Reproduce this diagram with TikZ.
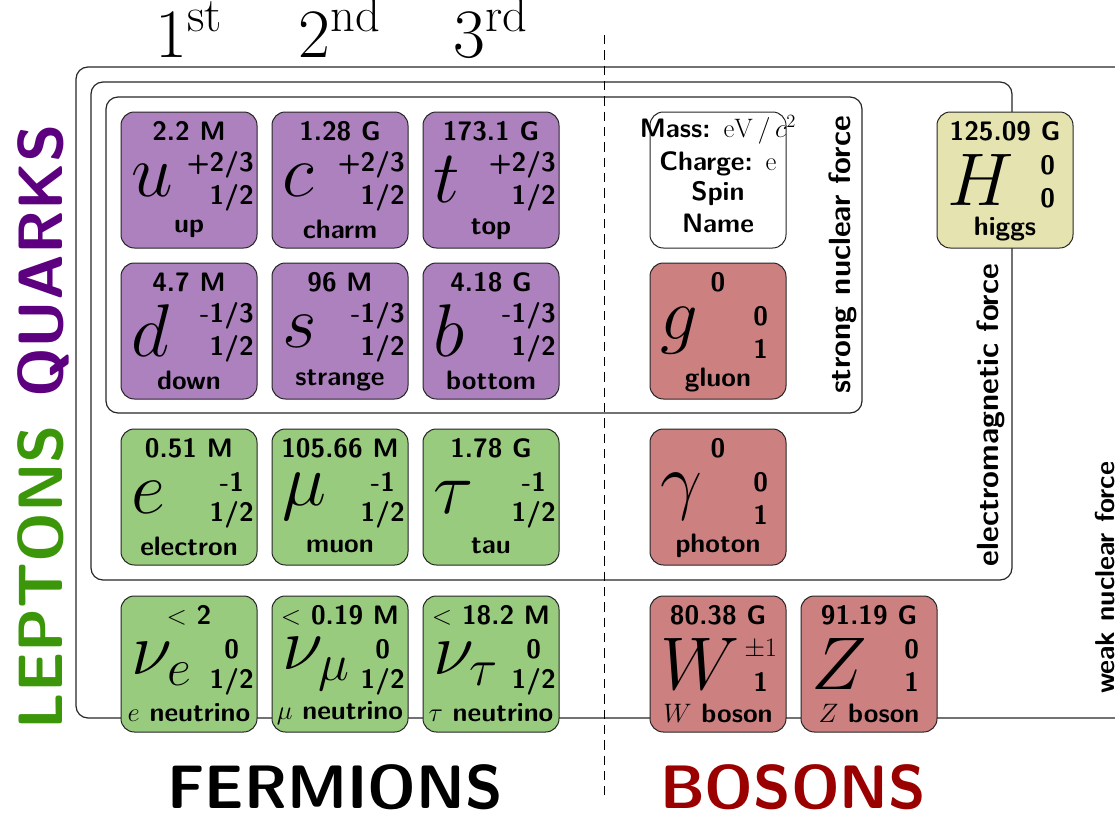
\RequirePackage{fix-cm}
\documentclass[tikz,border=0pt]{standalone}

\definecolor{quarkfill}{RGB}{173,128,190}
\definecolor{leptonfill}{RGB}{152,203,126}
\definecolor{bosonfill}{RGB}{204,128,128}
\definecolor{higgsfill}{RGB}{229,228,176}
\definecolor{quarktext}{RGB}{92,0,128}
\definecolor{leptontext}{RGB}{60,150,10}
\definecolor{bosontext}{RGB}{155,0,0}

\tikzset{
  pbox/.style={draw=black!85, line width=0.75pt, rounded corners=10pt,
    minimum width=102pt, minimum height=102pt, inner sep=0pt, outer sep=0pt},
  symb/.style={anchor=west, inner sep=0pt, font=\fontsize{56}{56}\selectfont},
  smalltxt/.style={inner sep=0pt, font=\sffamily\bfseries\fontsize{20}{20}\selectfont},
  massl/.style={smalltxt, anchor=base},
  qnum/.style={smalltxt, anchor=east, minimum width=33pt},
  namel/.style={smalltxt, anchor=center},
  frame/.style={draw=black!85, line width=0.9pt, rounded corners=9pt},
  force/.style={rotate=90, anchor=base, inner sep=0pt,
    font=\sffamily\bfseries\fontsize{23}{23}\selectfont},
  group/.style={rotate=90, anchor=base, inner sep=0pt,
    font=\sffamily\bfseries\fontsize{47}{47}\selectfont},
  kind/.style={anchor=base, inner sep=0pt,
    font=\sffamily\bfseries\fontsize{46}{46}\selectfont},
  gen/.style={anchor=base, inner sep=0pt, font=\fontsize{52}{52}\selectfont},
}

% #1 name, #2 left, #3 top, #4 fill, #5 symbol, #6 mass, #7 charge, #8 spin, #9 label
\newcommand\ptcl[9]{%
  \node[pbox, fill=#4] (#1) at (#2+68,#3+68) {};
  \node[symb] (#1-sym) at ([shift={(10,68)}]#1.north west) {$#5$};
  \node[massl] (#1-mass) at ([shift={(68,28)}]#1.north west) {#6};
  \node[qnum] (#1-charge) at ([shift={(133,53)}]#1.north west) {#7};
  \node[qnum] (#1-spin) at ([shift={(133,86)}]#1.north west) {#8};
  \node[namel] (#1-name) at ([shift={(68,117)}]#1.north west) {#9};
}

\begin{document}
\begin{tikzpicture}[x=0.75pt, y=-0.75pt]
\useasboundingbox (0,0) rectangle (1115,814);
\clip (0,0) rectangle (1115,814);

% force frames
\draw[frame] (76,67) rectangle (1150,718);
\draw[frame] (91,82) rectangle (1012,580);
\draw[frame] (106,97) rectangle (862,413);

% fermion / boson divider
\coordinate (divtop) at (604,35);
\coordinate (divbot) at (604,795);
\draw[line width=0.75pt, dash pattern=on 7pt off 4.5pt] (divtop) -- (divbot);

% quarks
\ptcl{up}{121}{112}{quarkfill}{u}{2.2 M}{+2/3}{1/2}{up}
\ptcl{charm}{272}{112}{quarkfill}{c}{1.28 G}{+2/3}{1/2}{charm}
\ptcl{top}{423}{112}{quarkfill}{t}{173.1 G}{+2/3}{1/2}{top}
\ptcl{down}{121}{263}{quarkfill}{d}{4.7 M}{-1/3}{1/2}{down}
\ptcl{strange}{272}{263}{quarkfill}{s}{96 M}{-1/3}{1/2}{strange}
\ptcl{bottom}{423}{263}{quarkfill}{b}{4.18 G}{-1/3}{1/2}{bottom}

% leptons
\ptcl{electron}{121}{429}{leptonfill}{e}{0.51 M}{-1}{1/2}{electron}
\ptcl{muon}{272}{429}{leptonfill}{\mu}{105.66 M}{-1}{1/2}{muon}
\ptcl{tau}{423}{429}{leptonfill}{\tau}{1.78 G}{-1}{1/2}{tau}
\ptcl{nue}{121}{596}{leptonfill}{\nu_e}{$<$ 2}{0}{1/2}{$e$ neutrino}
\ptcl{numu}{272}{596}{leptonfill}{\nu_\mu}{$<$ 0.19 M}{0}{1/2}{$\mu$ neutrino}
\ptcl{nutau}{423}{596}{leptonfill}{\nu_\tau}{$<$ 18.2 M}{0}{1/2}{$\tau$ neutrino}

% bosons
\ptcl{gluon}{650}{263}{bosonfill}{g}{0}{0}{1}{gluon}
\ptcl{photon}{650}{429}{bosonfill}{\gamma}{0}{0}{1}{photon}
\ptcl{wboson}{650}{596}{bosonfill}{W}{80.38 G}{$\pm1$}{1}{$W$ boson}
\ptcl{zboson}{801}{596}{bosonfill}{Z}{91.19 G}{0}{1}{$Z$ boson}
\ptcl{higgs}{937}{112}{higgsfill}{H}{125.09 G}{0}{0}{higgs}

% legend
\node[pbox, fill=white] (legend) at (718,180) {};
\node[massl] (legend-mass) at ([shift={(68,25)}]legend.north west) {Mass: $\mathrm{eV}\,/\,c^2$};
\node[massl] (legend-charge) at ([shift={(68,58)}]legend.north west) {Charge: $\mathrm{e}$};
\node[massl] (legend-spin) at ([shift={(68,88)}]legend.north west) {Spin};
\node[massl] (legend-name) at ([shift={(68,120)}]legend.north west) {Name};

% force labels
\node[force] (strong) at (850,255) {strong nuclear force};
\node[force] (em) at (998,415) {electromagnetic force};
\node[force, font=\sffamily\bfseries\fontsize{20.5}{20.5}\selectfont] (weak) at (1114,578) {weak nuclear force};

% generations
\node[gen] (gen1) at (189,57) {1\textsuperscript{st}};
\node[gen] (gen2) at (340,57) {2\textsuperscript{nd}};
\node[gen] (gen3) at (491,57) {3\textsuperscript{rd}};

% groups
\node[group, text=quarktext] (quarks) at (62,261) {QUARKS};
\node[group, text=leptontext] (leptons) at (62,577) {LEPTONS};
\node[kind] (fermions) at (335,808) {FERMIONS};
\node[kind, text=bosontext] (bosons) at (793,808) {BOSONS};
\end{tikzpicture}
\end{document}
